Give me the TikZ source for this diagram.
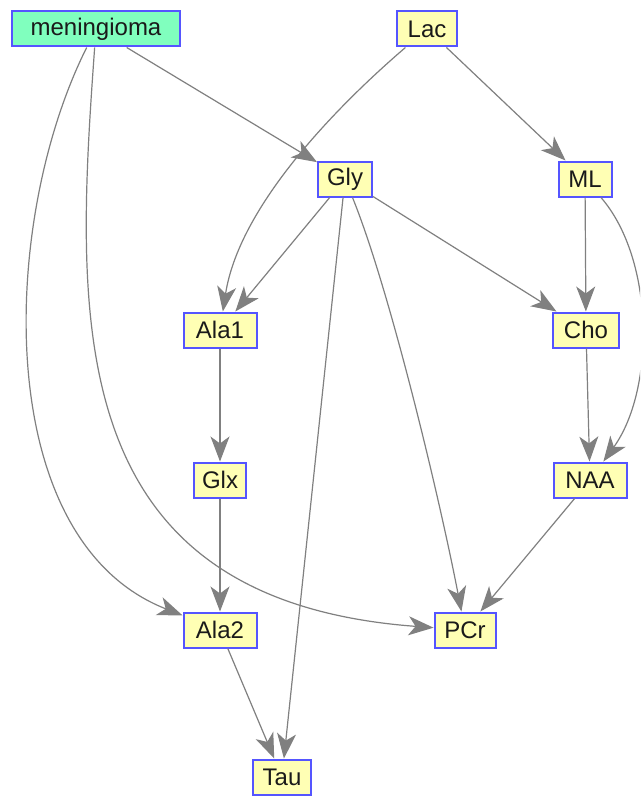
\documentclass[tikz,border=0pt]{standalone}
\usepackage{fontspec}
\setmainfont{Liberation Sans}
\usetikzlibrary{arrows.meta}
\definecolor{boxblue}{RGB}{85,85,255}
\definecolor{boxyellow}{RGB}{255,255,180}
\definecolor{boxgreen}{RGB}{128,255,190}
\definecolor{edgegray}{RGB}{128,128,128}
\definecolor{labelink}{RGB}{26,26,26}
\tikzset{
  vertex/.style={draw=boxblue, line width=2pt, fill=boxyellow, text=labelink,
    minimum height=35pt, inner sep=0pt, font=\fontsize{24}{28}\selectfont},
  source/.style={vertex, fill=boxgreen},
  link/.style={draw=edgegray, line width=1.2pt,
    -{Stealth[length=25pt, width=19pt, inset=7pt]}},
}
\begin{document}
\begin{tikzpicture}[x=1pt, y=-1pt]
  \clip (0,0) rectangle (640,797);
  \fill[white] (0,0) rectangle (640,797);

  % vertices, one layer per row
  \node[source, minimum width=168pt] (men)  at (96,29)  {meningioma};
  \node[vertex, minimum width=60pt]  (lac)  at (427,29) {Lac};
  \node[vertex, minimum width=54pt]  (gly)  at (345,179) {Gly};
  \node[vertex, minimum width=53pt]  (ml)   at (585,179) {ML};
  \node[vertex, minimum width=73pt]  (ala1) at (220,330) {Ala1};
  \node[vertex, minimum width=66pt]  (cho)  at (586,330) {Cho};
  \node[vertex, minimum width=52pt]  (glx)  at (220,480) {Glx};
  \node[vertex, minimum width=73pt]  (naa)  at (590,480) {NAA};
  \node[vertex, minimum width=73pt]  (ala2) at (220,630) {Ala2};
  \node[vertex, minimum width=61pt]  (pcr)  at (465,630) {PCr};
  \node[vertex, minimum width=58pt]  (tau)  at (282,777) {Tau};

  % straight connectors
  \draw[link] (men) -- (gly);
  \draw[link] (lac) -- (ml);
  \draw[link] (gly) -- (ala1);
  \draw[link] (gly) -- (cho);
  \draw[link] (gly) -- (tau);
  \draw[link] (ml) -- (cho);
  \draw[link] (cho) -- (naa);
  \draw[link] (naa) -- (pcr);
  \draw[link] (ala1) -- (glx);
  \draw[link] (glx) -- (ala2);
  \draw[link] (ala2) -- (tau);

  % curved connectors
  \draw[link] (men) .. controls (0,220) and (-10,540) .. (ala2);
  \draw[link] (men) .. controls (75,320) and (60,600) .. (pcr);
  \draw[link] (lac) .. controls (350,95) and (240,200) .. (ala1);
  \draw[link] (gly) .. controls (390,290) and (440,500) .. (pcr);
  \draw[link] (ml) .. controls (655,260) and (655,390) .. (naa);
\end{tikzpicture}
\end{document}
